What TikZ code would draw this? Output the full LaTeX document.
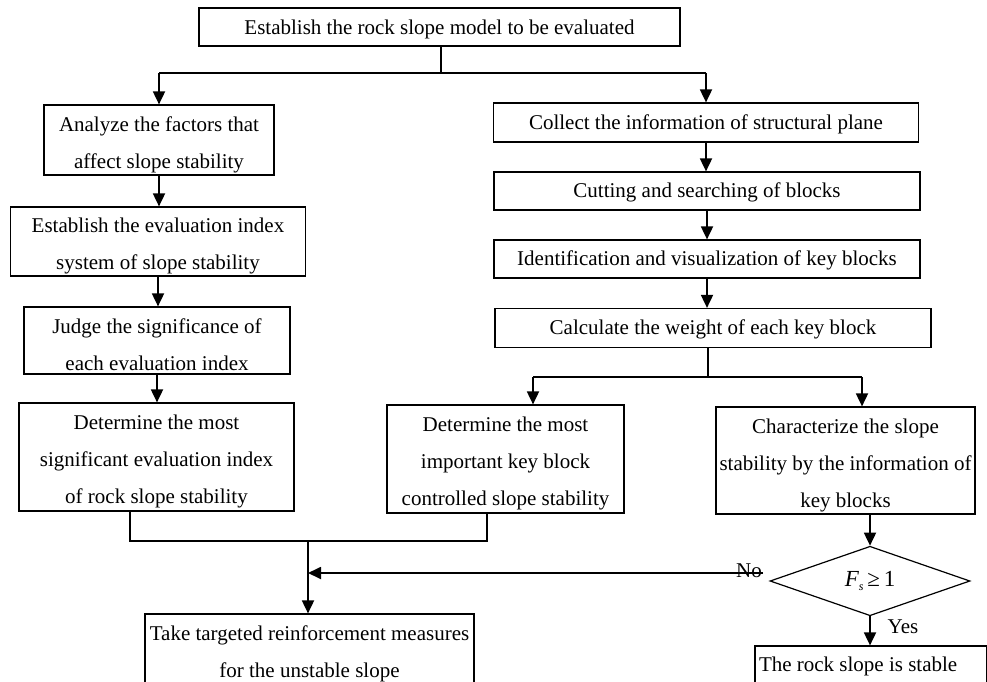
\documentclass[tikz,border=0pt]{standalone}
\usepackage{fontspec}
\setmainfont{Liberation Serif}
\usetikzlibrary{arrows.meta,shapes.geometric}
% struts that lower the text of a box a little
\newcommand{\firstln}{\rule{0pt}{24pt}}
\newcommand{\oneln}{\rule{0pt}{18.5pt}}
\begin{document}
\begin{tikzpicture}[x=1pt,y=-1pt,
  box/.style={draw,line width=1.2pt,inner sep=0pt,align=center,
    font=\fontsize{21}{37}\selectfont},
  arr/.style={-{Triangle[length=13pt,width=12pt]},line width=1.8pt},
  ln/.style={line width=1.3pt},
  lbl/.style={inner sep=0pt,font=\fontsize{21}{24}\selectfont}]
\useasboundingbox (0,0) rectangle (987,682);
\clip (0,0) rectangle (987,682);
\fill[white] (0,0) rectangle (987,682);

% start
\node[box,minimum width=481pt,minimum height=38pt] (top) at (439.5,27)
  {\oneln Establish the rock slope model to be evaluated};

% left branch: evaluation index chain
\node[box,minimum width=230pt,minimum height=70pt] (L1) at (159,140)
  {\firstln Analyze the factors that\\affect slope stability};
\node[box,minimum width=295pt,minimum height=69pt] (L2) at (158,241.5)
  {\firstln Establish the evaluation index\\system of slope stability};
\node[box,minimum width=266pt,minimum height=67pt] (L3) at (157,340.5)
  {\firstln Judge the significance of\\each evaluation index};
\node[box,minimum width=275pt,minimum height=108pt] (L4) at (156.5,457)
  {\firstln Determine the most\\significant evaluation index\\of rock slope stability};

% right branch: key block chain
\node[box,minimum width=425pt,minimum height=39pt] (R1) at (706,122.5)
  {\oneln Collect the information of structural plane};
\node[box,minimum width=426pt,minimum height=38pt] (R2) at (707,191)
  {\oneln Cutting and searching of blocks};
\node[box,minimum width=426pt,minimum height=38pt] (R3) at (707,259)
  {\oneln Identification and visualization of key blocks};
\node[box,minimum width=436pt,minimum height=39pt] (R4) at (713,328)
  {\oneln Calculate the weight of each key block};
\node[box,minimum width=237pt,minimum height=108pt] (M5) at (505.5,459)
  {\firstln Determine the most\\important key block\\controlled slope stability};
\node[box,minimum width=259pt,minimum height=107pt] (R5) at (845.5,460.5)
  {\firstln Characterize the slope\\stability by the information of\\key blocks};

% decision
\node[draw,diamond,line width=1.2pt,inner sep=0pt,minimum width=200pt,
  minimum height=66pt,font=\fontsize{23}{26}\selectfont] (D) at (870,581)
  {{\itshape F}\raisebox{-0.35ex}{\fontsize{12}{12}\selectfont\itshape s}\,≥\,1};

% outcomes
\node[box,minimum width=329pt,minimum height=80pt] (B1) at (309.5,654)
  {Take targeted reinforcement measures\\for the unstable slope};
\node[box,minimum width=232pt,minimum height=40pt] (B2) at (871,666)
  {\makebox[224pt][l]{The rock slope is stable}};

% junction points
\coordinate (sp) at (441,73);
\coordinate (kp) at (708,377);
\coordinate (ka) at (533,377);
\coordinate (kb) at (862,377);
\coordinate (j1) at (130,541);
\coordinate (j2) at (487,541);
\coordinate (j3) at (308,541);
\coordinate (ns) at (763,573);

% connectors
\draw[ln] (top.south -| sp) -- (sp);
\draw[ln] (L1.north |- sp) -- (R1.north |- sp);
\draw[arr] (L1.north |- sp) -- (L1.north);
\draw[arr] (R1.north |- sp) -- (R1.north);

\draw[arr] (L1.south) -- (L2.north -| L1.south);
\draw[arr] (L2.south) -- (L3.north -| L2.south);
\draw[arr] (L3.south) -- (L4.north -| L3.south);

\draw[arr] (R1.south) -- (R2.north -| R1.south);
\draw[arr] (R2.south) -- (R3.north -| R2.south);
\draw[arr] (R3.south) -- (R4.north -| R3.south);

\draw[ln] (kp |- R4.south) -- (kp);
\draw[ln] (ka) -- (kb);
\draw[arr] (ka) -- (ka |- M5.north);
\draw[arr] (kb) -- (kb |- R5.north);

\draw[arr] (R5.south -| D.north) -- (D.north);

\draw[ln] (j1 |- L4.south) -- (j1) -- (j2) -- (j2 |- M5.south);
\draw[arr] (j3) -- (j3 |- B1.north);

\draw[arr] (ns) -- (j3 |- ns);
\node[lbl] at (749,571) {No};

\draw[arr] (D.south) -- (D.south |- B2.north);
\node[lbl] at (903,627) {Yes};
\end{tikzpicture}
\end{document}
